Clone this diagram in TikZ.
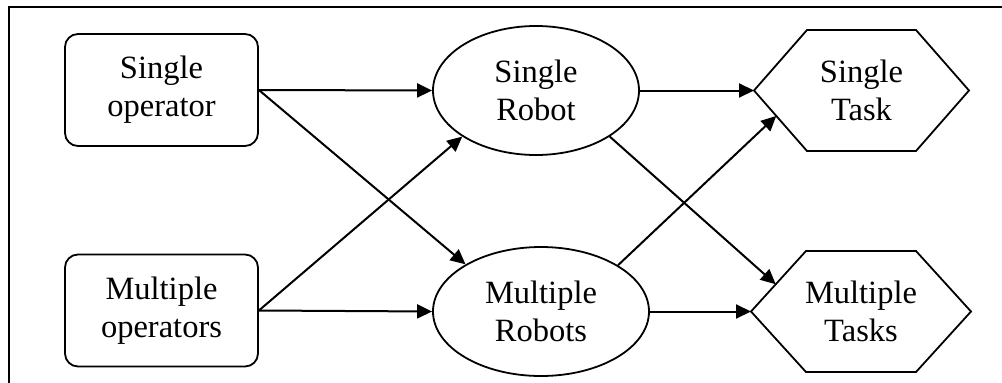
\documentclass[tikz,border=0pt]{standalone}
\usepackage{fontspec}
\setmainfont{Liberation Serif}
\usetikzlibrary{shapes.geometric,arrows.meta,calc}
\begin{document}
\begin{tikzpicture}[x=1pt,y=-1pt,
  every node/.style={font=\fontsize{32.5}{38}\selectfont, align=center, inner sep=0pt},
  opbox/.style={draw, line width=1.8pt, rounded corners=13pt, minimum width=193pt, minimum height=112pt},
  robot/.style={draw, ellipse, line width=1.8pt, minimum height=129pt},
  tasktext/.style={minimum height=121pt},
  hexline/.style={line width=1.8pt, line join=miter},
  frameline/.style={line width=2pt},
  conn/.style={line width=2pt, -{Triangle[length=15pt,width=14pt]}}]
\useasboundingbox (0,0) rectangle (1002,383);
\draw[frameline] (9,383) -- (9,7) -- (1002,7);
\node[opbox] (so) at (161.5,90) {Single\\operator};
\node[opbox] (mo) at (161.5,310.5) {Multiple\\operators};
\node[robot, minimum width=206pt] (sr) at (536,90.5) {Single\\Robot};
\node[robot, minimum width=216pt] (mr) at (541,311.5) {Multiple\\Robots};
\node[tasktext, minimum width=215pt] (st) at (861.5,90.5) {Single\\Task};
\node[tasktext, minimum width=220pt] (mt) at (861,311.5) {Multiple\\Tasks};
% hexagon outlines
\coordinate (st-w) at ($(st.center)+(-107.5,0)$);
\coordinate (st-nw) at ($(st.center)+(-54.5,-60.5)$);
\coordinate (st-ne) at ($(st.center)+(54.5,-60.5)$);
\coordinate (st-e) at ($(st.center)+(107.5,0)$);
\coordinate (st-se) at ($(st.center)+(54.5,60.5)$);
\coordinate (st-sw) at ($(st.center)+(-54.5,60.5)$);
\draw[hexline] (st-w) -- (st-nw) -- (st-ne) -- (st-e) -- (st-se) -- (st-sw) -- cycle;
\coordinate (mt-w) at ($(mt.center)+(-110,0)$);
\coordinate (mt-nw) at ($(mt.center)+(-55,-60.5)$);
\coordinate (mt-ne) at ($(mt.center)+(55,-60.5)$);
\coordinate (mt-e) at ($(mt.center)+(110,0)$);
\coordinate (mt-se) at ($(mt.center)+(55,60.5)$);
\coordinate (mt-sw) at ($(mt.center)+(-55,60.5)$);
\draw[hexline] (mt-w) -- (mt-nw) -- (mt-ne) -- (mt-e) -- (mt-se) -- (mt-sw) -- cycle;
\coordinate (st-in) at ($(st-w)!0.42!(st-sw)$);
\coordinate (mt-in) at ($(mt-w)!0.45!(mt-nw)$);
% connectors
\draw[conn] (so.east) -- (sr.west);
\draw[conn] (so.east) -- (mr.148);
\draw[conn] (mo.east) -- (sr.212);
\draw[conn] (mo.east) -- (mr.west);
\draw[conn] (sr.east) -- (st-w);
\draw[conn] (sr.-32) -- (mt-in);
\draw[conn] (mr.31) -- (st-in);
\draw[conn] (mr.east) -- (mt-w);
\end{tikzpicture}
\end{document}
